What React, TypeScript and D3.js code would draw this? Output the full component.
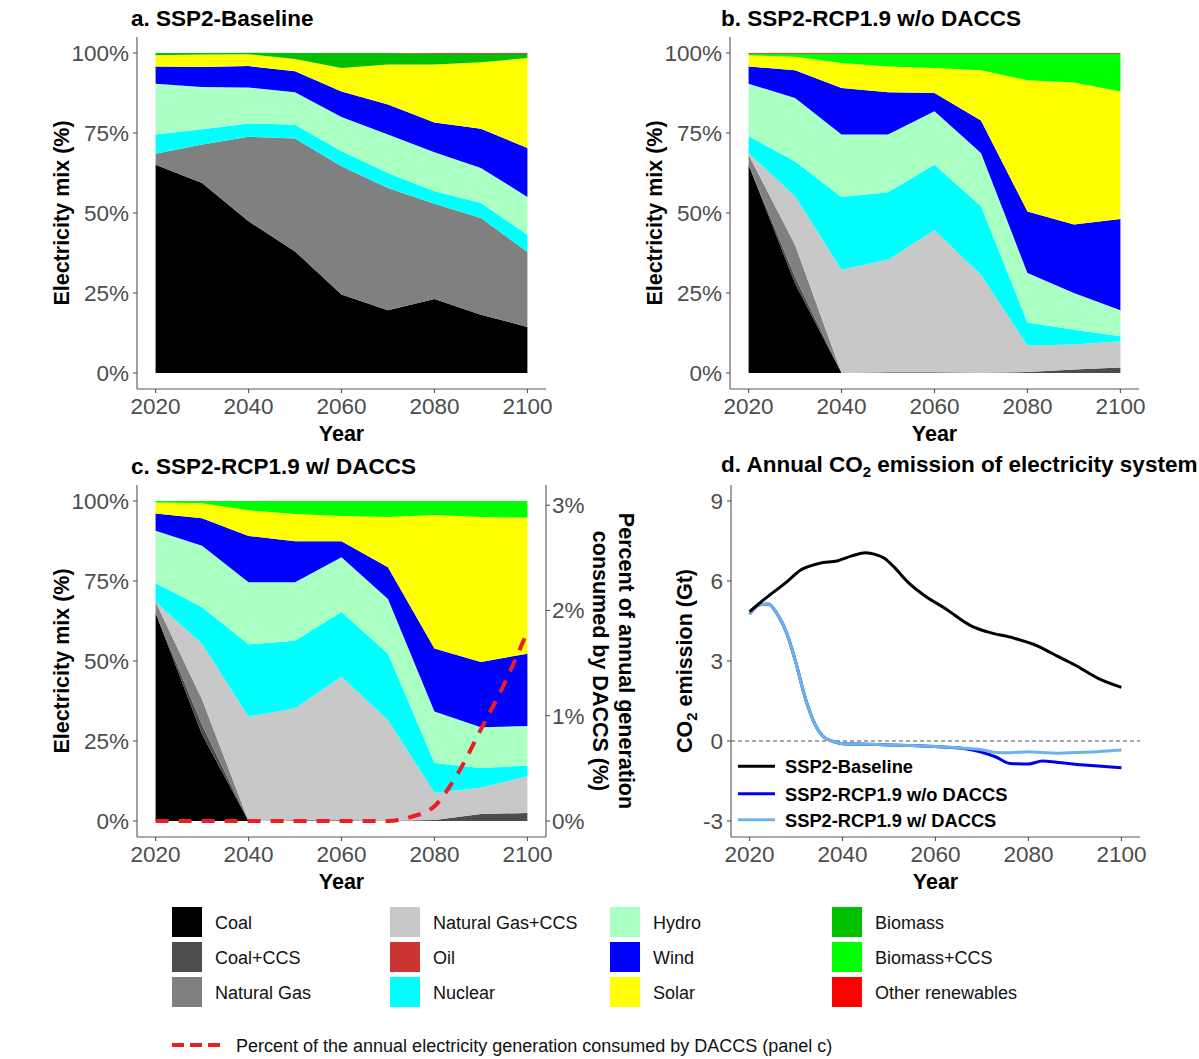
import React from 'react';
import * as d3 from 'd3';

// ---------- data ----------
const years = [2020, 2030, 2040, 2050, 2060, 2070, 2080, 2090, 2100];
const sources = ['Coal', 'Coal+CCS', 'Natural Gas', 'Natural Gas+CCS', 'Oil', 'Nuclear', 'Hydro', 'Wind', 'Solar', 'Biomass', 'Biomass+CCS', 'Other renewables'];
const sourceColors = ['#000000', '#4d4d4d', '#808080', '#c8c8c8', '#cc3333', '#00ffff', '#aaffc3', '#0000ff', '#ffff00', '#00c000', '#00ff00', '#ff0000'];

// a. SSP2-Baseline (share of generation, %)
const aCoal = [65.1, 59.4, 47.4, 38.0, 24.5, 19.6, 23.1, 18.2, 14.4];
const aCoalCCS = [0, 0, 0, 0, 0, 0, 0, 0, 0];
const aGas = [3.4, 12.0, 26.4, 35.3, 40.1, 38.2, 29.8, 30.2, 23.4];
const aGasCCS = [0, 0, 0, 0, 0, 0, 0, 0, 0];
const aOil = [0, 0, 0, 0, 0, 0, 0, 0, 0];
const aNuclear = [6.0, 4.8, 4.2, 4.3, 4.7, 4.7, 3.9, 4.7, 5.4];
const aHydro = [15.9, 13.2, 11.2, 10.1, 10.7, 12.0, 12.2, 11.0, 11.8];
const aWind = [5.4, 6.2, 6.7, 6.6, 8.0, 9.4, 9.3, 12.2, 15.3];
const aSolar = [3.5, 3.9, 3.7, 3.8, 7.3, 12.5, 18.1, 20.8, 28.1];
const aBiomass = [0.7, 0.5, 0.5, 1.9, 4.7, 3.6, 3.4, 2.7, 1.4];
const aBiomassCCS = [0, 0, 0, 0, 0, 0, 0, 0, 0];
const aOther = [0, 0, 0, 0, 0, 0, 0.2, 0.2, 0.2];

// b. SSP2-RCP1.9 w/o DACCS
const bCoal = [65.1, 28, 0, 0, 0, 0, 0, 0, 0];
const bCoalCCS = [0, 2, 0, 0.2, 0.2, 0.1, 0.3, 1.1, 1.7];
const bGas = [3.1, 10, 0, 0, 0, 0, 0, 0, 0];
const bGasCCS = [0.5, 15.2, 32.3, 35.2, 44.4, 30.6, 8.2, 7.8, 8.2];
const bOil = [0, 0, 0, 0, 0, 0, 0, 0, 0];
const bNuclear = [5.3, 10.9, 22.7, 21.1, 20.5, 21.4, 7.3, 4.6, 1.6];
const bHydro = [16.4, 19.8, 19.5, 18.0, 16.7, 16.65, 15.45, 11.5, 8.1];
const bWind = [5.4, 8.7, 14.6, 13.2, 5.7, 10.15, 19.25, 21.4, 28.5];
const bSolar = [3.5, 4.2, 7.8, 8.1, 7.8, 15.7, 41.0, 44.4, 39.9];
const bBiomass = [0, 0, 0, 0, 0, 0, 0, 0, 0];
const bBiomassCCS = [0.5, 1.0, 2.9, 4.0, 4.5, 5.2, 8.3, 9.0, 11.8];
const bOther = [0.2, 0.2, 0.2, 0.2, 0.2, 0.2, 0.2, 0.2, 0.2];

// c. SSP2-RCP1.9 w/ DACCS
const cCoal = [65.0, 27, 0, 0, 0, 0, 0, 0, 0];
const cCoalCCS = [0, 3, 0, 0.2, 0.2, 0.1, 0.3, 2.2, 2.5];
const cGas = [3.4, 8, 0, 0, 0, 0, 0, 0, 0];
const cGasCCS = [0, 17.4, 32.6, 35.0, 44.9, 31.5, 8.5, 8.2, 11.5];
const cOil = [0, 0, 0, 0, 0, 0, 0, 0, 0];
const cNuclear = [5.9, 11.4, 22.6, 21.1, 20.2, 20.7, 9.3, 6.2, 3.3];
const cHydro = [16.4, 19.2, 19.4, 18.3, 17.1, 17.1, 16.1, 12.7, 12.4];
const cWind = [5.4, 8.6, 14.5, 12.8, 5.0, 9.9, 19.7, 20.4, 22.6];
const cSolar = [3.4, 4.7, 8.0, 8.5, 7.9, 15.7, 41.7, 45.3, 42.5];
const cBiomass = [0, 0, 0, 0, 0, 0, 0, 0, 0];
const cBiomassCCS = [0.5, 0.7, 2.9, 4.1, 4.7, 5.0, 4.4, 5.0, 5.2];
const cOther = [0, 0, 0, 0, 0, 0, 0, 0, 0];

// DACCS share of annual generation (%), panel c
const daccsYears = [2020, 2030, 2040, 2050, 2060, 2070, 2075, 2080, 2085, 2090, 2095, 2100];
const daccsPct = [0, 0, 0, 0, 0, 0, 0.04, 0.14, 0.45, 0.87, 1.3, 1.8];

// d. CO2 emissions (Gt)
const baseYears = [2020, 2023, 2028, 2031, 2035, 2039, 2042, 2045, 2047, 2049, 2051, 2054, 2058, 2062, 2068, 2071, 2077, 2082, 2085, 2090, 2095, 2100];
const baseCO2 = [4.85, 5.29, 5.97, 6.41, 6.66, 6.76, 6.94, 7.06, 7.0, 6.85, 6.54, 5.97, 5.41, 4.98, 4.29, 4.10, 3.85, 3.56, 3.29, 2.85, 2.35, 2.01];
const rcpYears = [2020, 2022, 2024, 2026, 2028, 2030, 2032, 2034, 2036, 2038, 2040, 2045, 2050, 2055, 2060, 2065, 2070, 2073, 2076, 2080, 2083, 2086, 2090, 2095, 2100];
const noDaccsCO2 = [4.76, 5.1, 5.14, 4.75, 4.04, 2.91, 1.6, 0.65, 0.14, -0.02, -0.1, -0.12, -0.15, -0.17, -0.21, -0.26, -0.42, -0.6, -0.84, -0.86, -0.75, -0.8, -0.87, -0.94, -1.0];
const withDaccsCO2 = [4.76, 5.1, 5.14, 4.75, 4.04, 2.91, 1.6, 0.65, 0.14, -0.02, -0.1, -0.12, -0.15, -0.17, -0.21, -0.26, -0.33, -0.43, -0.44, -0.4, -0.43, -0.46, -0.43, -0.4, -0.34];

const xTicks = [2020, 2040, 2060, 2080, 2100];
const pctTicks = [0, 25, 50, 75, 100];
const daccsTicks = [0, 1, 2, 3];
const co2Ticks = [-3, 0, 3, 6, 9];
const co2Series = ['SSP2-Baseline', 'SSP2-RCP1.9 w/o DACCS', 'SSP2-RCP1.9 w/ DACCS'];
const co2Colors = ['#000000', '#0000ee', '#6cb4e8'];

// ---------- layout ----------
const FONT = '"Liberation Sans", Arial, sans-serif';
const PW = 409;
const PH = 352;
const TICK_COL = '#4d4d4d';
const AXIS_COL = '#555555';

function buildRows(arrs: number[][]) {
  return years.map((yr, i) => {
    const r: any = { year: yr };
    sources.forEach((s, k) => { r[s] = arrs[k][i]; });
    return r;
  });
}

const scenarioA = buildRows([aCoal, aCoalCCS, aGas, aGasCCS, aOil, aNuclear, aHydro, aWind, aSolar, aBiomass, aBiomassCCS, aOther]);
const scenarioB = buildRows([bCoal, bCoalCCS, bGas, bGasCCS, bOil, bNuclear, bHydro, bWind, bSolar, bBiomass, bBiomassCCS, bOther]);
const scenarioC = buildRows([cCoal, cCoalCCS, cGas, cGasCCS, cOil, cNuclear, cHydro, cWind, cSolar, cBiomass, cBiomassCCS, cOther]);

function xScale(left: number) {
  return d3.scaleLinear().domain([2016, 2104]).range([left, left + PW]);
}

function XAxis({ x, top }: { x: any; top: number }) {
  const yb = top + PH;
  return (
    <g>
      <line x1={x.range()[0]} x2={x.range()[1]} y1={yb} y2={yb} stroke={AXIS_COL} strokeWidth={1.1} />
      {xTicks.map(t => (
        <g key={t}>
          <line x1={x(t)} x2={x(t)} y1={yb} y2={yb + 4} stroke={AXIS_COL} strokeWidth={1.1} />
          <text x={x(t)} y={yb + 25} textAnchor="middle" fontSize={22.5} fill={TICK_COL} fontFamily={FONT}>{t}</text>
        </g>
      ))}
      <text x={(x(2020) + x(2100)) / 2} y={yb + 52} textAnchor="middle" fontSize={21.5} fontWeight="bold" fontFamily={FONT}>Year</text>
    </g>
  );
}

function YAxis({ y, left, top, ticks, fmt }: any) {
  return (
    <g>
      <line x1={left} x2={left} y1={top} y2={top + PH} stroke={AXIS_COL} strokeWidth={1.1} />
      {ticks.map((t: number) => (
        <g key={t}>
          <line x1={left - 4} x2={left} y1={y(t)} y2={y(t)} stroke={AXIS_COL} strokeWidth={1.1} />
          <text x={left - 8} y={y(t) + 8} textAnchor="end" fontSize={22.5} fill={TICK_COL} fontFamily={FONT}>{fmt(t)}</text>
        </g>
      ))}
    </g>
  );
}

function MixPanel({ left, top, rows, title, titleX, ytitleX, daccs }: any) {
  const x = xScale(left);
  const y = d3.scaleLinear().domain([-5, 105]).range([top + PH, top]);
  const stacked = d3.stack().keys(sources)(rows);
  const area = d3.area<any>().x(d => x(d.data.year)).y0(d => y(d[0])).y1(d => y(d[1]));
  let daccsEl = null;
  if (daccs) {
    const yr = d3.scaleLinear().domain([0, 3.04]).range([y(0), y(100)]);
    const line = d3.line<number>().x((_, i) => x(daccsYears[i])).y(v => yr(v)).curve(d3.curveMonotoneX);
    const right = left + PW;
    daccsEl = (
      <g>
        <path d={line(daccsPct) || ''} fill="none" stroke="#ee1c25" strokeWidth={4} strokeDasharray="13,10" />
        <line x1={right} x2={right} y1={top} y2={top + PH} stroke={AXIS_COL} strokeWidth={1.1} />
        {daccsTicks.map(t => (
          <g key={t}>
            <line x1={right} x2={right + 4} y1={yr(t)} y2={yr(t)} stroke={AXIS_COL} strokeWidth={1.1} />
            <text x={right + 6} y={yr(t) + 8} textAnchor="start" fontSize={22.5} fill={TICK_COL} fontFamily={FONT}>{t}%</text>
          </g>
        ))}
        <g transform={`translate(${right + 73},${(y(0) + y(100)) / 2}) rotate(90)`}>
          <text x={0} y={0} textAnchor="middle" fontSize={21.5} fontWeight="bold" fontFamily={FONT}>Percent of annual generation</text>
          <text x={0} y={26} textAnchor="middle" fontSize={21.5} fontWeight="bold" fontFamily={FONT}>consumed by DACCS (%)</text>
        </g>
      </g>
    );
  }
  return (
    <g>
      {stacked.map((s, k) => (
        <path key={s.key} d={area(s as any) || ''} fill={sourceColors[k]} />
      ))}
      {daccsEl}
      <YAxis y={y} left={left} top={top} ticks={pctTicks} fmt={(t: number) => `${t}%`} />
      <XAxis x={x} top={top} />
      <text x={titleX} y={top - 11} fontSize={22.5} fontWeight="bold" fontFamily={FONT}>{title}</text>
      <text transform={`translate(${ytitleX},${(y(0) + y(100)) / 2}) rotate(-90)`} textAnchor="middle" fontSize={21.5} fontWeight="bold" fontFamily={FONT}>Electricity mix (%)</text>
    </g>
  );
}

function CO2Panel({ left, top }: any) {
  const x = xScale(left);
  const y = d3.scaleLinear().domain([-3.6, 9.6]).range([top + PH, top]);
  const mk = (yrs: number[]) => d3.line<number>().x((_, i) => x(yrs[i])).y(v => y(v)).curve(d3.curveMonotoneX);
  const series = [
    { vals: noDaccsCO2, yrs: rcpYears, c: co2Colors[1] },
    { vals: withDaccsCO2, yrs: rcpYears, c: co2Colors[2] },
    { vals: baseCO2, yrs: baseYears, c: co2Colors[0] },
  ];
  const legY = [y(-0.95), y(-1.98), y(-2.95)];
  return (
    <g>
      <line x1={left} x2={left + PW} y1={y(0)} y2={y(0)} stroke="#555" strokeWidth={1} strokeDasharray="4,3" />
      {series.map((s, i) => (
        <path key={i} d={mk(s.yrs)(s.vals) || ''} fill="none" stroke={s.c} strokeWidth={3} strokeLinejoin="round" />
      ))}
      <YAxis y={y} left={left} top={top} ticks={co2Ticks} fmt={(t: number) => `${t}`} />
      <XAxis x={x} top={top} />
      {co2Series.map((s, i) => (
        <g key={s}>
          <line x1={left + 7} x2={left + 44} y1={legY[i]} y2={legY[i]} stroke={co2Colors[i]} strokeWidth={3} />
          <text x={left + 54} y={legY[i] + 7} fontSize={18.3} fontWeight="bold" fontFamily={FONT}>{s}</text>
        </g>
      ))}
      <text x={721} y={top - 13} fontSize={22.5} fontWeight="bold" fontFamily={FONT}>
        d. Annual CO<tspan fontSize={15} dy={5}>2</tspan><tspan dy={-5}> emission of electricity system</tspan>
      </text>
      <text transform={`translate(${left - 39},${(y(-3) + y(9)) / 2}) rotate(-90)`} textAnchor="middle" fontSize={21.5} fontWeight="bold" fontFamily={FONT}>
        CO<tspan fontSize={15} dy={5}>2</tspan><tspan dy={-5}> emission (Gt)</tspan>
      </text>
    </g>
  );
}

function Legend() {
  const colX = [172, 390, 610, 832];
  const rowY = [907, 942, 977];
  return (
    <g>
      {sources.map((s, k) => {
        const c = Math.floor(k / 3);
        const r = k % 3;
        return (
          <g key={s}>
            <rect x={colX[c]} y={rowY[r]} width={30} height={30} fill={sourceColors[k]} />
            <text x={colX[c] + 43} y={rowY[r] + 22} fontSize={18} fontFamily={FONT} fill="#111">{s}</text>
          </g>
        );
      })}
      <line x1={172} x2={224} y1={1045} y2={1045} stroke="#ee1c25" strokeWidth={4} strokeDasharray="12,6" />
      <text x={236} y={1052} fontSize={18} fontFamily={FONT} fill="#111">Percent of the annual electricity generation consumed by DACCS (panel c)</text>
    </g>
  );
}

export default function App() {
  return (
    <div>
      <style>{'body{margin:0;background:#fff}'}</style>
      <svg width={1199} height={1059} viewBox="0 0 1199 1059" style={{ display: 'block' }}>
        <rect width={1199} height={1059} fill="#fff" />
        <MixPanel left={137} top={37} rows={scenarioA} title="a. SSP2-Baseline" titleX={131} ytitleX={69} />
        <MixPanel left={730} top={37} rows={scenarioB} title="b. SSP2-RCP1.9 w/o DACCS" titleX={721} ytitleX={662} />
        <MixPanel left={137} top={485} rows={scenarioC} title="c. SSP2-RCP1.9 w/ DACCS" titleX={131} ytitleX={69} daccs />
        <CO2Panel left={731} top={485} />
        <Legend />
      </svg>
    </div>
  );
}
